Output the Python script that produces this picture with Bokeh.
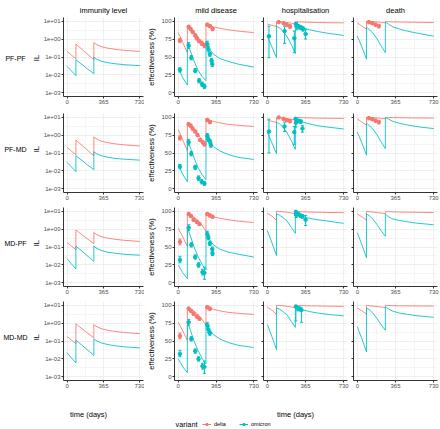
import math
from bokeh.plotting import figure
from bokeh.layouts import column, row
from bokeh.models import (Range1d, FixedTicker, Whisker, TeeHead, ColumnDataSource,
                          Legend, LegendItem, Label)
from bokeh.embed import file_html
from bokeh.resources import INLINE

# ---------------------------------------------------------------- data
REGIMENS = ["PF-PF", "PF-MD", "MD-PF", "MD-MD"]
OUTCOMES = ["immunity level", "mild disease", "hospitalisation", "death"]
VARIANTS = ["delta", "omicron"]
X_TICKS = [0, 365, 730]
EFF_TICKS = [0, 25, 50, 75, 100]
IL_TICKS = [1e-3, 1e-2, 1e-1, 1e0, 1e1]
IL_TICK_LABELS = ["1e-03", "1e-02", "1e-01", "1e+00", "1e+01"]

# model time grid (days); doses at ~88 and ~268 days
T = [0, 44, 88, 88, 100, 120, 150, 190, 230, 268, 268, 280, 300, 340, 400, 480, 580, 730]

# immunity level curves
IL_PFPF_DELTA = [0.204, 0.126, 0.078, 0.525, 0.457, 0.372, 0.263, 0.170, 0.107, 0.071, 0.646, 0.562, 0.479, 0.380, 0.316, 0.269, 0.234, 0.204]
IL_PFPF_OMICRON = [0.030, 0.0166, 0.0091, 0.071, 0.063, 0.051, 0.038, 0.025, 0.017, 0.0117, 0.100, 0.087, 0.074, 0.059, 0.049, 0.042, 0.037, 0.033]
IL_PFMD_DELTA = [0.204, 0.126, 0.078, 0.525, 0.457, 0.372, 0.263, 0.170, 0.107, 0.071, 0.794, 0.692, 0.589, 0.468, 0.380, 0.324, 0.282, 0.245]
IL_PFMD_OMICRON = [0.030, 0.0166, 0.0091, 0.071, 0.063, 0.051, 0.038, 0.025, 0.017, 0.0117, 0.120, 0.105, 0.089, 0.071, 0.059, 0.050, 0.045, 0.040]
IL_MDPF_DELTA = [0.178, 0.112, 0.071, 0.891, 0.794, 0.646, 0.479, 0.324, 0.219, 0.151, 0.646, 0.562, 0.479, 0.380, 0.316, 0.269, 0.234, 0.204]
IL_MDPF_OMICRON = [0.0224, 0.0112, 0.0060, 0.112, 0.098, 0.079, 0.058, 0.037, 0.024, 0.0158, 0.112, 0.098, 0.083, 0.065, 0.052, 0.045, 0.039, 0.035]
IL_MDMD_DELTA = [0.178, 0.112, 0.071, 0.891, 0.794, 0.646, 0.479, 0.324, 0.219, 0.151, 0.832, 0.724, 0.617, 0.490, 0.398, 0.339, 0.295, 0.257]
IL_MDMD_OMICRON = [0.0224, 0.0112, 0.0060, 0.112, 0.098, 0.079, 0.058, 0.037, 0.024, 0.0158, 0.135, 0.117, 0.100, 0.079, 0.065, 0.054, 0.047, 0.041]

# effectiveness curves (%)
MILD_PFPF_DELTA = [84, 70, 56, 94, 92.5, 90, 85, 78, 70, 63, 97, 96, 94, 92, 90, 88, 86, 84]
MILD_PFPF_OMICRON = [35, 21, 11, 70, 65, 57, 45, 32, 23, 17, 72, 67, 61, 54, 48, 44, 40, 36]
MILD_PFMD_DELTA = [83, 68, 53, 93, 91.5, 89, 84, 76, 68, 62, 98, 97, 96, 94, 92, 90, 88.5, 87]
MILD_PFMD_OMICRON = [34, 20, 10, 69, 64, 56, 44, 30, 20, 13, 75, 71, 66, 59, 53, 48, 44, 41]
MILD_MDPF_DELTA = [76, 64, 51, 96, 95.5, 94.5, 92, 87, 80, 72, 96, 95, 94, 92, 90, 88, 86, 84]
MILD_MDPF_OMICRON = [25, 14, 6, 77, 72, 64, 51, 37, 26, 18, 72, 67, 61, 53, 47, 43, 40, 36]
MILD_MDMD_DELTA = [76, 64, 51, 96, 95.5, 94.5, 92, 87, 80, 72, 97, 96.5, 95.5, 94, 92, 90, 88.5, 87]
MILD_MDMD_OMICRON = [25, 14, 6, 77, 72, 64, 51, 37, 26, 18, 75, 71, 66, 59, 53, 48, 44, 41]

HOSP_PFPF_DELTA = [96, 94, 92.5, 99.5, 99.4, 99.2, 98.8, 98, 97, 95.5, 99.3, 99.2, 99, 98.7, 98.4, 98.1, 97.8, 97.5]
HOSP_PFPF_OMICRON = [79, 64, 49, 93, 92, 90, 86, 78, 67, 55, 97, 96, 94, 91, 88, 85.5, 83, 80]
HOSP_PFMD_DELTA = [96, 94, 92.5, 99.5, 99.4, 99.2, 98.8, 98, 97, 95.5, 99.6, 99.5, 99.3, 99.1, 98.9, 98.6, 98.4, 98.1]
HOSP_PFMD_OMICRON = [79, 64, 49, 93, 92, 90, 86, 78, 67, 55, 98, 97, 95.5, 93, 90.5, 88, 86, 83.5]
HOSP_MDPF_DELTA = [97, 93, 87, 99.7, 99.6, 99.4, 99, 98.4, 97.4, 96, 99.5, 99.4, 99.2, 99, 98.7, 98.4, 98.1, 97.8]
HOSP_MDPF_OMICRON = [73, 56, 38, 96, 95.5, 94, 91, 86, 77, 69, 99, 97, 95, 92, 90, 88, 86, 83]
HOSP_MDMD_DELTA = [97, 93, 87, 99.7, 99.6, 99.4, 99, 98.4, 97.4, 96, 99.7, 99.6, 99.4, 99.2, 99, 98.8, 98.5, 98.2]
HOSP_MDMD_OMICRON = [73, 56, 38, 96, 95.5, 94, 91, 86, 77, 69, 99, 98, 96, 93.5, 91, 89, 87, 85]

DEATH_PFPF_DELTA = [97.5, 93, 88.5, 99.8, 99.7, 99.5, 99.2, 98.8, 98.3, 97.8, 99.3, 99.2, 99.1, 98.9, 98.7, 98.5, 98.3, 98.0]
DEATH_PFPF_OMICRON = [79, 64, 47, 91, 90, 87.5, 83, 75, 65, 56, 98.6, 97.5, 95.5, 92, 89, 86, 83, 79]
DEATH_PFMD_DELTA = [97.5, 93, 88.5, 99.8, 99.7, 99.5, 99.2, 98.8, 98.3, 97.8, 99.6, 99.5, 99.4, 99.2, 99.1, 98.9, 98.8, 98.6]
DEATH_PFMD_OMICRON = [79, 64, 47, 91, 90, 87.5, 83, 75, 65, 56, 99.2, 98.5, 97, 94, 91.5, 89, 86.5, 84]
DEATH_MDPF_DELTA = [96, 92, 87.5, 99.5, 99.4, 99.1, 98.6, 97.9, 97.2, 96.5, 99.3, 99.2, 99.1, 98.9, 98.7, 98.5, 98.3, 98]
DEATH_MDPF_OMICRON = [70, 53, 35, 96, 95, 93, 88.5, 81, 72, 65, 96, 94.5, 92, 89, 87, 85, 83, 81]
DEATH_MDMD_DELTA = [96, 92, 87.5, 99.5, 99.4, 99.1, 98.6, 97.9, 97.2, 96.5, 99.6, 99.5, 99.4, 99.2, 99.1, 98.9, 98.8, 98.6]
DEATH_MDMD_OMICRON = [70, 53, 35, 96, 95, 93, 88.5, 81, 72, 65, 97.5, 96.5, 94.5, 91.5, 89, 87, 85, 83]

# observed effectiveness: (day, estimate, lower, upper)
OBS_MILD_PFPF_DELTA = [(16, 73, 70, 76), (101, 92, 90, 94), (120, 89, 87, 91), (139, 85, 83, 87), (164, 80, 78, 82), (180, 76, 74, 78), (202, 72, 70, 74), (228, 69, 66, 72), (253, 66, 63, 69), (281, 95, 93, 97), (306, 93, 91, 95), (332, 89, 87, 91)]
OBS_MILD_PFPF_OMICRON = [(16, 32, 29, 35), (101, 66, 62, 70), (126, 49, 46, 52), (164, 31, 28, 34), (202, 17, 14, 20), (231, 12, 9, 15), (253, 9, 6, 12), (281, 68, 64, 72), (291, 61, 57, 65), (306, 54, 51, 57), (322, 45, 42, 48), (329, 40, 37, 43)]
OBS_MILD_PFMD_DELTA = [(16, 71, 68, 74), (101, 90, 88, 92), (120, 88, 86, 90), (139, 84, 82, 86), (164, 80, 78, 82), (186, 75, 73, 77), (212, 68, 66, 70), (237, 65, 63, 67), (253, 62, 60, 64), (281, 96, 94, 98), (306, 93, 91, 95)]
OBS_MILD_PFMD_OMICRON = [(16, 31, 28, 34), (101, 65, 61, 69), (126, 49, 46, 52), (164, 30, 27, 33), (196, 15, 12, 18), (227, 10, 7, 13), (253, 7.5, 5, 10), (281, 74, 71, 77), (291, 69, 66, 72), (306, 66, 63, 69), (316, 61, 58, 64)]
OBS_MILD_MDPF_DELTA = [(16, 57, 53, 61), (101, 96, 94, 98), (123, 93, 91, 95), (148, 88, 86, 90), (180, 85, 83, 87), (205, 82, 80, 84), (281, 96, 94, 98), (306, 94, 92, 96), (332, 92, 90, 94)]
OBS_MILD_MDPF_OMICRON = [(16, 32, 28, 37), (101, 77, 73, 81), (126, 53, 50, 56), (164, 36, 33, 39), (196, 25, 22, 28), (234, 15, 11, 19), (253, 14, 5, 22), (281, 68, 64, 72), (291, 63, 60, 66), (306, 55, 52, 58), (329, 47, 44, 50), (331, 41, 38, 44)]
OBS_MILD_MDMD_DELTA = [(16, 57, 53, 61), (101, 95, 93, 97), (123, 92, 90, 94), (148, 88, 86, 90), (180, 84, 82, 86), (205, 81, 79, 83), (281, 97, 95, 99), (306, 95, 93, 97)]
OBS_MILD_MDMD_OMICRON = [(16, 32, 28, 37), (101, 76, 72, 80), (126, 53, 50, 56), (164, 36, 33, 39), (196, 25, 22, 28), (234, 15, 11, 19), (253, 14, 5, 22), (281, 72, 68, 76), (291, 66, 62, 70), (306, 61, 58, 64)]

OBS_HOSP_PFPF_DELTA = [(109, 98.6, 97.5, 99.5), (155, 97, 95.5, 98.5), (186, 95, 93, 97), (217, 92.6, 90, 95)]
OBS_HOSP_PFPF_OMICRON = [(16, 79, 49, 93), (165, 86, 69, 93), (258, 76, 56, 86), (273, 96, 92, 98), (280, 93, 88, 97), (295, 93, 89, 95), (320, 91, 88, 94), (342, 89, 86, 92), (366, 82, 75, 88)]
OBS_HOSP_PFMD_DELTA = [(109, 99.5, 98.5, 100), (155, 97.6, 96, 99), (186, 95.8, 94, 97.5), (217, 94.4, 92, 96.5)]
OBS_HOSP_PFMD_OMICRON = [(16, 80, 50, 97), (165, 87, 80, 93), (258, 79, 62, 87), (270, 97.6, 94, 99), (273, 92, 86, 96), (295, 95, 92, 97), (320, 94, 91, 96), (336, 84, 79, 88)]
OBS_HOSP_MDPF_DELTA = []
OBS_HOSP_MDPF_OMICRON = [(273, 99, 95, 100), (276, 95, 91, 98), (295, 96, 93, 98), (316, 94, 91, 96), (335, 93, 90, 95), (366, 88, 80, 94)]
OBS_HOSP_MDMD_DELTA = []
OBS_HOSP_MDMD_OMICRON = [(273, 98, 78, 99.5), (290, 96, 92, 98), (311, 95, 92, 97), (326, 93, 76, 96)]

OBS_DEATH_PFPF_DELTA = [(111, 98.6, 97.5, 99.5), (143, 97, 95.5, 98.5), (175, 95, 93, 97), (206, 93, 90.5, 95.5)]
OBS_DEATH_PFMD_DELTA = [(111, 98.6, 97.5, 99.5), (143, 97, 95.5, 98.5), (175, 95, 93, 97), (206, 93, 90.5, 95.5)]

CURVES = {
    ("immunity level", "PF-PF"): (IL_PFPF_DELTA, IL_PFPF_OMICRON),
    ("immunity level", "PF-MD"): (IL_PFMD_DELTA, IL_PFMD_OMICRON),
    ("immunity level", "MD-PF"): (IL_MDPF_DELTA, IL_MDPF_OMICRON),
    ("immunity level", "MD-MD"): (IL_MDMD_DELTA, IL_MDMD_OMICRON),
    ("mild disease", "PF-PF"): (MILD_PFPF_DELTA, MILD_PFPF_OMICRON),
    ("mild disease", "PF-MD"): (MILD_PFMD_DELTA, MILD_PFMD_OMICRON),
    ("mild disease", "MD-PF"): (MILD_MDPF_DELTA, MILD_MDPF_OMICRON),
    ("mild disease", "MD-MD"): (MILD_MDMD_DELTA, MILD_MDMD_OMICRON),
    ("hospitalisation", "PF-PF"): (HOSP_PFPF_DELTA, HOSP_PFPF_OMICRON),
    ("hospitalisation", "PF-MD"): (HOSP_PFMD_DELTA, HOSP_PFMD_OMICRON),
    ("hospitalisation", "MD-PF"): (HOSP_MDPF_DELTA, HOSP_MDPF_OMICRON),
    ("hospitalisation", "MD-MD"): (HOSP_MDMD_DELTA, HOSP_MDMD_OMICRON),
    ("death", "PF-PF"): (DEATH_PFPF_DELTA, DEATH_PFPF_OMICRON),
    ("death", "PF-MD"): (DEATH_PFMD_DELTA, DEATH_PFMD_OMICRON),
    ("death", "MD-PF"): (DEATH_MDPF_DELTA, DEATH_MDPF_OMICRON),
    ("death", "MD-MD"): (DEATH_MDMD_DELTA, DEATH_MDMD_OMICRON),
}
OBS = {
    ("mild disease", "PF-PF"): (OBS_MILD_PFPF_DELTA, OBS_MILD_PFPF_OMICRON),
    ("mild disease", "PF-MD"): (OBS_MILD_PFMD_DELTA, OBS_MILD_PFMD_OMICRON),
    ("mild disease", "MD-PF"): (OBS_MILD_MDPF_DELTA, OBS_MILD_MDPF_OMICRON),
    ("mild disease", "MD-MD"): (OBS_MILD_MDMD_DELTA, OBS_MILD_MDMD_OMICRON),
    ("hospitalisation", "PF-PF"): (OBS_HOSP_PFPF_DELTA, OBS_HOSP_PFPF_OMICRON),
    ("hospitalisation", "PF-MD"): (OBS_HOSP_PFMD_DELTA, OBS_HOSP_PFMD_OMICRON),
    ("hospitalisation", "MD-PF"): (OBS_HOSP_MDPF_DELTA, OBS_HOSP_MDPF_OMICRON),
    ("hospitalisation", "MD-MD"): (OBS_HOSP_MDMD_DELTA, OBS_HOSP_MDMD_OMICRON),
    ("death", "PF-PF"): (OBS_DEATH_PFPF_DELTA, []),
    ("death", "PF-MD"): (OBS_DEATH_PFMD_DELTA, []),
}

# ---------------------------------------------------------------- style
DELTA = "#F8766D"
OMICRON = "#00BFC4"
COLORS = [DELTA, OMICRON]
FONT = "Liberation Sans"
AXIS_COL = "#333333"
TICK_COL = "#4D4D4D"
GRID_COL = "#EBEBEB"

STRIP_W = 40
COL_W = [104, 116, 90, 90]
COL_BORDER = [(21, 1), (28, 3), (3, 3), (3, 3)]
ROW_TOP = [17, 3, 3, 3]
ROW_BOTTOM = [14, 12, 12, 12]
FRAME_H = 79
BOT_H = 36
X_PAD = 0.05 * (X_TICKS[-1] - X_TICKS[0])


def mids(ticks):
    return [(a + b) / 2 for a, b in zip(ticks[:-1], ticks[1:])]


def style_common(p):
    p.outline_line_color = None
    p.background_fill_color = "white"
    p.border_fill_color = "white"
    for ax in (p.xaxis[0], p.yaxis[0]):
        ax.axis_line_color = AXIS_COL
        ax.axis_line_width = 1
        ax.major_tick_line_color = AXIS_COL
        ax.major_tick_out = 2
        ax.major_tick_in = 0
        ax.minor_tick_out = 0
        ax.minor_tick_in = 0
        ax.major_label_text_font = FONT
        ax.major_label_text_font_size = "6px"
        ax.major_label_text_color = TICK_COL
        ax.major_label_standoff = 1
        ax.axis_label_text_font = FONT
        ax.axis_label_text_font_size = "7.5px"
        ax.axis_label_text_font_style = "normal"
        ax.axis_label_text_color = "black"
        ax.axis_label_standoff = 2
    for g in (p.xgrid[0], p.ygrid[0]):
        g.grid_line_color = GRID_COL
        g.grid_line_width = 0.8
        g.minor_grid_line_color = GRID_COL
        g.minor_grid_line_width = 0.5


def add_obs(p, obs, color):
    if not obs:
        return
    src = ColumnDataSource(dict(day=[o[0] for o in obs], est=[o[1] for o in obs],
                                lo=[o[2] for o in obs], hi=[o[3] for o in obs]))
    p.add_layout(Whisker(source=src, base="day", upper="hi", lower="lo",
                         line_color=color, line_width=1,
                         upper_head=TeeHead(size=3, line_color=color, line_width=1),
                         lower_head=TeeHead(size=3, line_color=color, line_width=1)))
    p.scatter("day", "est", source=src, size=3.5, color=color)


def make_panel(r, c):
    reg = REGIMENS[r]
    out = OUTCOMES[c]
    top = ROW_TOP[r]
    h = top + FRAME_H + ROW_BOTTOM[r]
    left, right = COL_BORDER[c]
    kw = dict(width=COL_W[c], height=h, output_backend="svg", toolbar_location=None,
              min_border_left=left, min_border_right=right, min_border_top=top,
              min_border_bottom=ROW_BOTTOM[r],
              x_range=Range1d(X_TICKS[0] - X_PAD, X_TICKS[-1] + X_PAD))
    if r == 0:
        kw["title"] = out
    if c == 0:
        lo, hi = math.log10(IL_TICKS[0]), math.log10(IL_TICKS[-1])
        span = hi - lo
        p = figure(y_axis_type="log",
                   y_range=Range1d(10 ** (lo - 0.05 * span), 10 ** (hi + 0.05 * span)), **kw)
        minor = [10 ** ((math.log10(a) + math.log10(b)) / 2) for a, b in zip(IL_TICKS[:-1], IL_TICKS[1:])]
        yt = FixedTicker(ticks=IL_TICKS, minor_ticks=minor)
        p.yaxis[0].ticker = yt
        p.ygrid[0].ticker = yt
        p.yaxis[0].major_label_overrides = dict(zip(IL_TICKS, IL_TICK_LABELS))
    else:
        pad = 0.05 * (EFF_TICKS[-1] - EFF_TICKS[0])
        p = figure(y_range=Range1d(EFF_TICKS[0] - pad, EFF_TICKS[-1] + pad), **kw)
        yt = FixedTicker(ticks=EFF_TICKS, minor_ticks=mids(EFF_TICKS))
        p.yaxis[0].ticker = yt
        p.ygrid[0].ticker = yt
    xt = FixedTicker(ticks=X_TICKS, minor_ticks=mids(X_TICKS))
    p.xaxis[0].ticker = xt
    p.xgrid[0].ticker = xt
    style_common(p)
    if c >= 2:
        p.yaxis[0].major_label_overrides = {t: "" for t in EFF_TICKS}
        p.yaxis[0].major_label_standoff = 0
    if c == 1:
        p.yaxis[0].axis_label = "effectiveness (%)"
    if r == 0:
        p.title.align = "center"
        p.title.text_font = FONT
        p.title.text_font_size = "7.5px"
        p.title.text_font_style = "normal"
        p.title.text_color = "black"
        p.title.standoff = 5

    curves = CURVES[(out, reg)]
    for vals, col in zip(curves, COLORS):
        p.line(T, vals, line_color=col, line_width=1, line_alpha=0.85)
    obs = OBS.get((out, reg), ([], []))
    for o, col in zip(obs, COLORS):
        add_obs(p, o, col)
    return p


def make_strip(r):
    """Row label plus the y-axis title of the immunity-level panel."""
    h = ROW_TOP[r] + FRAME_H + ROW_BOTTOM[r]
    s = figure(width=STRIP_W, height=h, output_backend="svg", toolbar_location=None,
               x_range=Range1d(0, STRIP_W), y_range=Range1d(0, h),
               x_axis_type=None, y_axis_type=None, min_border=0, outline_line_color=None)
    yc = ROW_BOTTOM[r] + FRAME_H / 2
    s.add_layout(Label(x=15, y=yc, text=REGIMENS[r],
                       text_align="center", text_baseline="middle",
                       text_font=FONT, text_font_size="7px", text_color="black"))
    s.add_layout(Label(x=36, y=yc, text="IL", angle=math.pi / 2,
                       text_align="center", text_baseline="middle",
                       text_font=FONT, text_font_size="7.5px", text_color="black"))
    return s


rows = []
for r in range(len(REGIMENS)):
    rows.append(row([make_strip(r)] + [make_panel(r, c) for c in range(len(OUTCOMES))], spacing=0))

TOTAL_W = STRIP_W + sum(COL_W)
b = figure(width=TOTAL_W, height=BOT_H, output_backend="svg", toolbar_location=None,
           x_range=Range1d(0, TOTAL_W), y_range=Range1d(0, BOT_H),
           x_axis_type=None, y_axis_type=None, min_border=0, outline_line_color=None)
for xc in (88, 295):
    b.add_layout(Label(x=xc, y=14, text="time (days)", text_align="center", text_baseline="middle",
                       text_font=FONT, text_font_size="7.5px", text_color="black"))
b.add_layout(Label(x=197, y=4.5, text="variant", text_align="right", text_baseline="middle",
                   text_font=FONT, text_font_size="7.3px", text_color="black"))
items = []
for name, col in zip(VARIANTS, COLORS):
    # off-canvas placeholder so the legend key has a renderer to draw from
    lr = b.line([-50, -40], [-50, -50], line_color=col, line_width=1)
    sr = b.scatter([-45], [-50], size=3.5, color=col)
    items.append(LegendItem(label=name, renderers=[lr, sr]))
leg = Legend(items=items, orientation="horizontal", location=(202, 1),
             glyph_width=9, glyph_height=6, label_standoff=3, spacing=5,
             padding=0, margin=0, border_line_color=None, background_fill_alpha=0,
             label_text_font=FONT, label_text_font_size="5.5px", label_text_color="black",
             label_height=6)
b.add_layout(leg)

layout = column(rows + [b], spacing=0)
open("out.html", "w").write(file_html(layout, INLINE))
